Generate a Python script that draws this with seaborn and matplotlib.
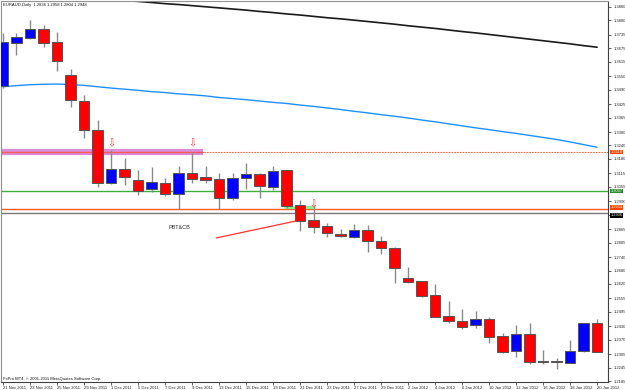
import numpy as np
import matplotlib
matplotlib.use("Agg")
import matplotlib.pyplot as plt
import matplotlib.transforms as mtransforms
import seaborn as sns

header_text = "EURAUD,Daily  1.2836 1.2958 1.2804 1.2948"
footer_text = "FxPro MT4, \u00a9 2001-2011 MetaQuotes Software Corp."

opens = [1.3506, 1.3699, 1.3721, 1.3761, 1.3703, 1.3556, 1.3439, 1.3309, 1.3072, 1.3135,
         1.3085, 1.3045, 1.3072, 1.3023, 1.3117, 1.3099, 1.3090, 1.3005, 1.3094, 1.3112,
         1.3054, 1.3130, 1.2974, 1.2906, 1.2880, 1.2844, 1.2830, 1.2862, 1.2812, 1.2781,
         1.2647, 1.2633, 1.2571, 1.2477, 1.2454, 1.2436, 1.2463, 1.2387, 1.2320, 1.2396,
         1.2271, 1.2275, 1.2266, 1.2320, 1.2445]
highs = [1.3744, 1.3744, 1.3802, 1.3779, 1.3748, 1.3582, 1.3466, 1.3354, 1.3220, 1.3184,
         1.3130, 1.3144, 1.3094, 1.3148, 1.3211, 1.3148, 1.3117, 1.3117, 1.3162, 1.3117,
         1.3148, 1.3132, 1.2996, 1.2974, 1.2893, 1.2866, 1.2888, 1.2884, 1.2835, 1.2785,
         1.2696, 1.2635, 1.2620, 1.2544, 1.2508, 1.2499, 1.2472, 1.2400, 1.2436, 1.2445,
         1.2324, 1.2289, 1.2369, 1.2447, 1.2463]
lows = [1.3497, 1.3645, 1.3717, 1.3681, 1.3573, 1.3412, 1.3274, 1.3054, 1.3067, 1.3063,
        1.3018, 1.3032, 1.3014, 1.2956, 1.3072, 1.3072, 1.2956, 1.2996, 1.3045, 1.3005,
        1.3041, 1.2960, 1.2857, 1.2848, 1.2830, 1.2830, 1.2826, 1.2763, 1.2754, 1.2624,
        1.2624, 1.2562, 1.2470, 1.2445, 1.2418, 1.2423, 1.2356, 1.2311, 1.2293, 1.2262,
        1.2262, 1.2239, 1.2264, 1.2315, 1.2315]
closes = [1.3703, 1.3726, 1.3761, 1.3699, 1.3618, 1.3444, 1.3309, 1.3072, 1.3135, 1.3099,
          1.3036, 1.3076, 1.3023, 1.3117, 1.3090, 1.3085, 1.3005, 1.3094, 1.3112, 1.3059,
          1.3126, 1.2969, 1.2902, 1.2875, 1.2848, 1.2835, 1.2862, 1.2812, 1.2781, 1.2692,
          1.2629, 1.2566, 1.2472, 1.2454, 1.2427, 1.2463, 1.2382, 1.2315, 1.2396, 1.2271,
          1.2275, 1.2271, 1.2320, 1.2445, 1.2315]

date_labels = ["21 Nov 2011", "23 Nov 2011", "25 Nov 2011", "29 Nov 2011", "1 Dec 2011",
               "5 Dec 2011", "7 Dec 2011", "9 Dec 2011", "13 Dec 2011", "15 Dec 2011",
               "19 Dec 2011", "21 Dec 2011", "23 Dec 2011", "27 Dec 2011", "29 Dec 2011",
               "2 Jan 2012", "4 Jan 2012", "6 Jan 2012", "10 Jan 2012", "12 Jan 2012",
               "16 Jan 2012", "18 Jan 2012", "20 Jan 2012"]

price_ticks = [1.3860, 1.3800, 1.3735, 1.3675, 1.3615, 1.3550, 1.3490, 1.3425, 1.3365, 1.3300,
               1.3240, 1.3180, 1.3115, 1.3055, 1.2990, 1.2930, 1.2865, 1.2805, 1.2740, 1.2680,
               1.2620, 1.2555, 1.2495, 1.2430, 1.2370, 1.2305, 1.2245, 1.2185]
# the 1.2930 label is hidden behind the level boxes in the reference
price_tick_labels = ["1.3860", "1.3800", "1.3735", "1.3675", "1.3615", "1.3550", "1.3490",
                     "1.3425", "1.3365", "1.3300", "1.3240", "1.3180", "1.3115", "1.3055",
                     "1.2990", "", "1.2865", "1.2805", "1.2740", "1.2680", "1.2620",
                     "1.2555", "1.2495", "1.2430", "1.2370", "1.2305", "1.2245", "1.2185"]

# slow moving average (black), starts at bar 8
ma_slow_start = 8
ma_slow = [1.3893, 1.3889, 1.3885, 1.3880, 1.3875, 1.3871, 1.3866, 1.3861, 1.3856, 1.3851,
           1.3846, 1.3840, 1.3835, 1.3829, 1.3824, 1.3818, 1.3812, 1.3807, 1.3801, 1.3795,
           1.3789, 1.3783, 1.3776, 1.3770, 1.3764, 1.3757, 1.3750, 1.3744, 1.3737, 1.3730,
           1.3723, 1.3716, 1.3709, 1.3702, 1.3695, 1.3687, 1.3680]
# faster moving average (blue)
ma_fast = [1.3503, 1.3508, 1.3512, 1.3514, 1.3515, 1.3513, 1.3509, 1.3503, 1.3497, 1.3492,
           1.3487, 1.3481, 1.3477, 1.3471, 1.3467, 1.3462, 1.3455, 1.3450, 1.3445, 1.3439,
           1.3433, 1.3428, 1.3421, 1.3415, 1.3408, 1.3401, 1.3393, 1.3386, 1.3378, 1.3371,
           1.3363, 1.3354, 1.3346, 1.3337, 1.3328, 1.3319, 1.3311, 1.3302, 1.3294, 1.3285,
           1.3276, 1.3267, 1.3256, 1.3244, 1.3232]

level_resist = 1.3210
level_green = 1.3037
level_orange = 1.2954
level_gray = 1.2936
band_end_bar = 14.8
green_seg_bars = [20.9, 22.9]
green_seg_price = 1.2965

trend_bars = [15.8, 21.7]
trend_prices = [1.2826, 1.2902]
note_text = "PBT&CB"
note_bar = 13.1
note_price = 1.2871

arrow_bars = [8, 14, 23]
arrow_prices = [1.3251, 1.3251, 1.2978]

x_min, x_max = -0.148, 44.81
y_min, y_max = 1.21811, 1.38868

sns.set_style("white")
plt.rcParams['font.family'] = ['Liberation Sans', 'DejaVu Sans']

fig = plt.figure(figsize=(6.25, 3.9), dpi=100)
ax = fig.add_axes([1 / 625, 8 / 390, 607 / 625, 381 / 390])
ax.set_facecolor("white")

bars = np.arange(len(opens))
o = np.array(opens); c = np.array(closes)
h = np.array(highs); l = np.array(lows)
body_colors = ['#0000ff' if cc > oo else '#ff0000' for oo, cc in zip(o, c)]
heights = np.maximum(np.abs(c - o), 0.00035)

# horizontal levels
ax.axhline(level_resist, color='#ff6a3d', lw=0.8, ls=(0, (1.5, 1.0)), zorder=1)
ax.plot([x_min, band_end_bar], [level_resist, level_resist], color='#d98cd9', lw=4.5,
        solid_capstyle='butt', zorder=1.2)
ax.plot([x_min, band_end_bar], [level_resist, level_resist], color='#ff5a5a', lw=1.0,
        zorder=1.3)
ax.axhline(level_green, color='#3fae3f', lw=1.0, zorder=1)
ax.axhline(level_orange, color='#ff5a1f', lw=1.0, zorder=1)
ax.axhline(level_gray, color='#7a7a7a', lw=1.0, zorder=1)
ax.plot(green_seg_bars, [green_seg_price, green_seg_price], color='#90ee90', lw=2.2, zorder=1.5)

# moving averages
sns.lineplot(x=np.arange(ma_slow_start, ma_slow_start + len(ma_slow)), y=ma_slow, ax=ax,
             color='#1a1a1a', lw=1.2, zorder=2)
sns.lineplot(x=bars, y=ma_fast, ax=ax, color='#1e90ff', lw=1.0, zorder=2)

# candles
ax.vlines(bars, l, h, color='#8a8a8a', lw=1.0, zorder=3)
ax.bar(bars, heights, bottom=np.minimum(o, c), width=0.78, color=body_colors,
       edgecolor='#555555', linewidth=0.7, zorder=4)

# trend line and note
ax.plot(trend_bars, trend_prices, color='#ff3030', lw=0.9, zorder=5)
ax.text(note_bar, note_price, note_text, fontsize=4, color='#333333', ha='center', va='center')

for xb, yp in zip(arrow_bars, arrow_prices):
    ax.text(xb, yp, "\u21e9", fontsize=7, color='#ff4040', ha='center', va='center',
            family=['DejaVu Sans'], zorder=6)

ax.set_xlim(x_min, x_max)
ax.set_ylim(y_min, y_max)

ax.yaxis.tick_right()
ax.set_yticks(price_ticks)
ax.set_yticklabels(price_tick_labels)
ax.tick_params(axis='y', right=True, left=False, length=2.5, width=0.5, pad=1.5,
               labelsize=3, colors='#222222')
ax.set_xticks(bars[::2])
ax.set_xticklabels(date_labels)
ax.tick_params(axis='x', bottom=True, length=2, width=0.5, pad=0.8, labelsize=3,
               colors='#222222')
for lbl in ax.get_xticklabels():
    lbl.set_ha('left')
ax.set_xlabel("")
ax.set_ylabel("")

for side in ['right', 'bottom']:
    ax.spines[side].set_color('#404040')
    ax.spines[side].set_linewidth(0.8)
for side in ['left', 'top']:
    ax.spines[side].set_color('#909090')
    ax.spines[side].set_linewidth(0.8)

# right-side level boxes
trans = mtransforms.blended_transform_factory(ax.transAxes, ax.transData)
box_specs = [(level_resist, '#ff4500', 'center'), (level_green, '#2e8b2e', 'center'),
             (level_orange, '#ff4500', 'bottom'), (level_gray, '#000000', 'top')]
for val, fc, va in box_specs:
    ax.text(1.004, val, "%.4f" % val, transform=trans, fontsize=2.8, color='white',
            ha='left', va=va, clip_on=False, zorder=10,
            bbox=dict(boxstyle='square,pad=0.08', fc=fc, ec='none'))

ax.text(0.004, 0.989, header_text, transform=ax.transAxes, fontsize=3, ha='left',
        va='center', color='#111111')
ax.text(0.003, 0.009, footer_text, transform=ax.transAxes, fontsize=3, ha='left',
        va='center', color='#111111')

fig.savefig("out.png", dpi=100)
